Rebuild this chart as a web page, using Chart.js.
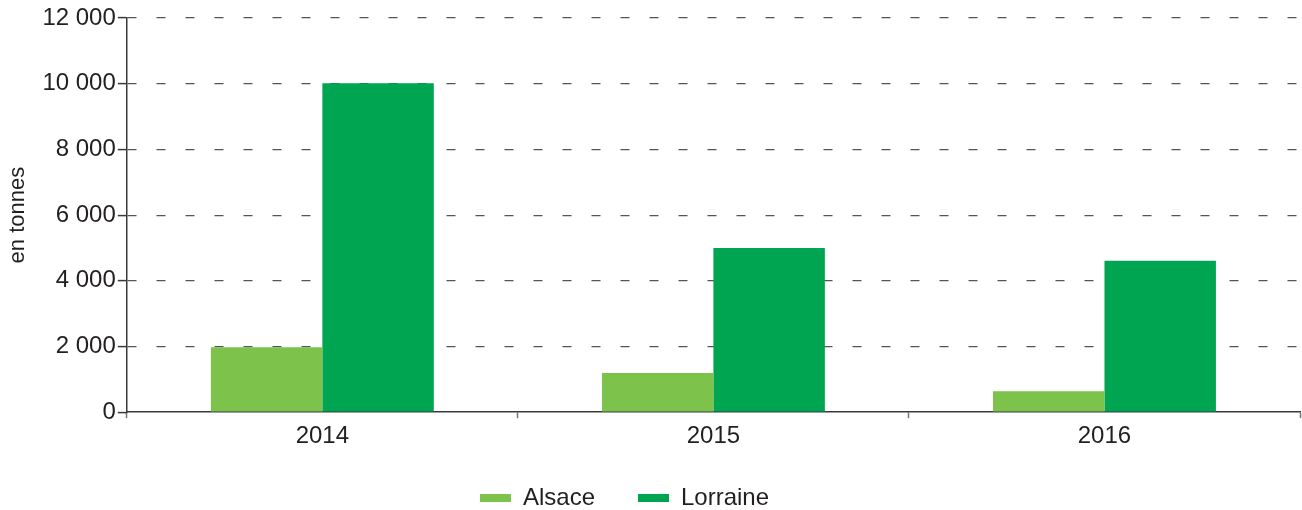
<!DOCTYPE html>
<html>
<head>
<meta charset="utf-8">
<script src="https://cdn.jsdelivr.net/npm/chart.js@4.4.1/dist/chart.umd.min.js"></script>
<style>
  html, body { margin: 0; padding: 0; background: #fff; }
  #graph { display: block; }
</style>
</head>
<body>
<canvas id="graph" width="1302" height="510"></canvas>
<script>
// values (tonnes)
const years = ["2014", "2015", "2016"];
const alsace = [1980, 1190, 640];
const lorraine = [10010, 5000, 4610];
const yTicks = [0, 2000, 4000, 6000, 8000, 10000, 12000];

const axisColor = "#3a3a3a";
const textColor = "#231f20";
const fontFamily = "'Liberation Sans', Arial, sans-serif";

function fmt(v) {
  // French style thousands separator: "12 000"
  return String(v).replace(/\B(?=(\d{3})+(?!\d))/g, " ");
}

Chart.defaults.font.family = fontFamily;
Chart.defaults.color = textColor;

// nudge the legend: a bit higher and left of centre, like the original
const legendShift = {
  id: "legendShift",
  afterLayout(chart) {
    const lg = chart.legend;
    if (!lg) return;
    lg.left -= 28;
    lg.right -= 28;
    lg.top -= 12;
    lg.bottom -= 12;
  }
};

const data = {
  labels: years,
  datasets: [
    { label: "Alsace", data: alsace, backgroundColor: "#7dc24b" },
    { label: "Lorraine", data: lorraine, backgroundColor: "#00a551" }
  ]
};

const options = {
  responsive: false,
  animation: false,
  layout: { padding: { left: 5, right: 2, top: 18, bottom: -22 } },
  datasets: {
    bar: { categoryPercentage: 0.57, barPercentage: 1.0 }
  },
  plugins: {
    tooltip: { enabled: false },
    legend: {
      position: "bottom",
      labels: {
        boxWidth: 31,
        boxHeight: 8,
        padding: 43,
        font: { size: 24 },
        color: textColor
      }
    }
  },
  scales: {
    x: {
      border: { color: axisColor, width: 1.5 },
      grid: {
        offset: true,
        drawOnChartArea: false,
        drawTicks: true,
        tickLength: 6,
        tickColor: "#777",
        tickWidth: 1.5
      },
      ticks: { font: { size: 24 }, color: textColor, padding: 4 }
    },
    y: {
      min: 0,
      max: 12000,
      afterBuildTicks: axis => { axis.ticks = yTicks.map(v => ({ value: v })); },
      border: { color: axisColor, width: 1.5, dash: [9, 20] },
      grid: {
        color: ctx => (ctx.tick && ctx.tick.value === 0 ? "rgba(0,0,0,0)" : "#555"),
        lineWidth: 1.2,
        tickLength: 9,
        tickBorderDash: [],
        tickColor: axisColor,
        tickWidth: 1.5
      },
      ticks: {
        font: { size: 24 },
        color: textColor,
        padding: 2,
        callback: v => fmt(v)
      },
      title: {
        display: true,
        text: "en tonnes",
        font: { size: 22 },
        color: textColor,
        padding: { top: 0, bottom: 9 }
      }
    }
  }
};

const myBarChart = new Chart(document.getElementById("graph"), {
  type: "bar",
  data: data,
  options: options,
  plugins: [legendShift]
});
</script>
</body>
</html>
